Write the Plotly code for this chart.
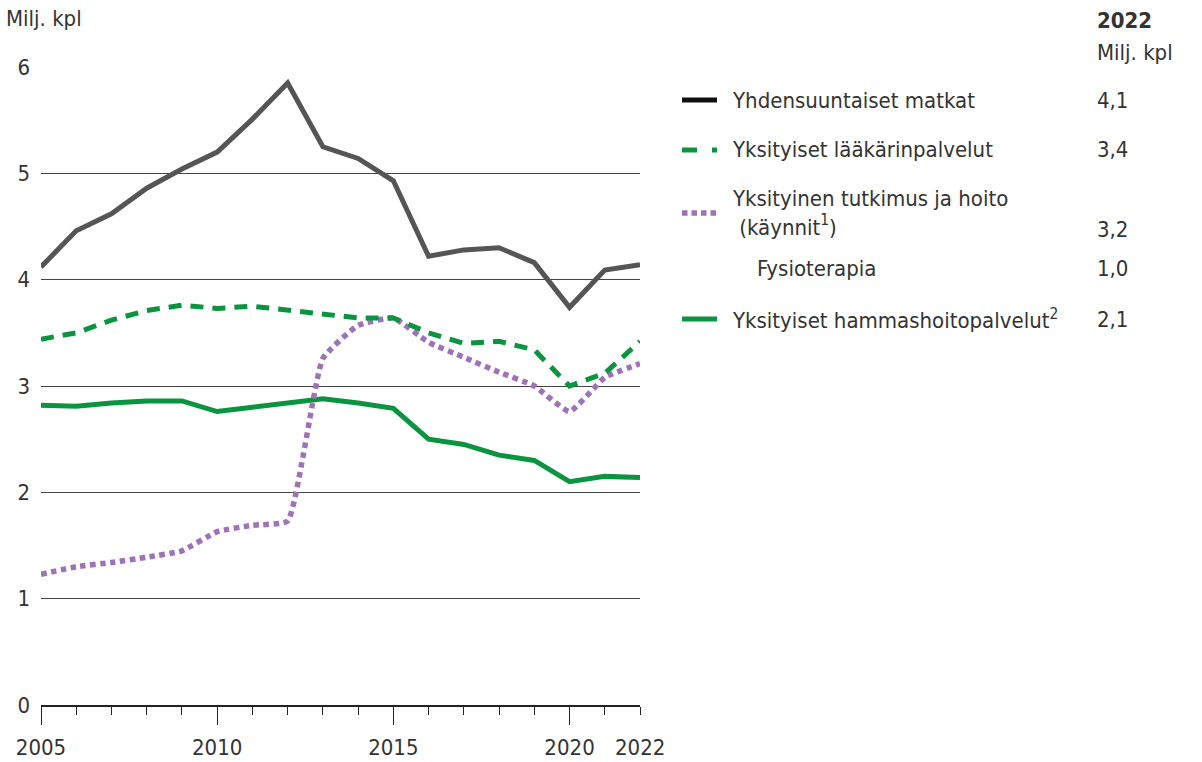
import plotly.graph_objects as go

years = list(range(2005, 2023))

matkat = [4.12, 4.46, 4.62, 4.86, 5.04, 5.20, 5.51, 5.85, 5.25, 5.14,
          4.93, 4.22, 4.28, 4.30, 4.16, 3.74, 4.09, 4.14]
laakari = [3.44, 3.50, 3.62, 3.71, 3.76, 3.73, 3.75, 3.71, 3.67, 3.64,
           3.64, 3.50, 3.40, 3.42, 3.34, 3.00, 3.12, 3.42]
tutkimus = [1.23, 1.30, 1.34, 1.39, 1.45, 1.63, 1.69, 1.73, 3.26, 3.57,
            3.64, 3.41, 3.27, 3.13, 3.00, 2.76, 3.08, 3.21]
hammas = [2.82, 2.81, 2.84, 2.86, 2.86, 2.76, 2.80, 2.84, 2.88, 2.84,
          2.79, 2.50, 2.45, 2.35, 2.30, 2.10, 2.15, 2.14]

legend_labels = ["Yhdensuuntaiset matkat", "Yksityiset lääkärinpalvelut",
                 "Yksityinen tutkimus ja hoito<br> (käynnit<sup>1</sup>)",
                 "Fysioterapia", "Yksityiset hammashoitopalvelut<sup>2</sup>"]
legend_values = ["4,1", "3,4", "3,2", "1,0", "2,1"]

x_labels = ["2005", "2010", "2015", "2020"]

FONT = "Liberation Sans Narrow, DejaVu Sans Condensed, sans-serif"
GRAY = "#555555"
GREEN = "#0a9440"
PURPLE = "#9d72b6"
TXT = "#333333"
FS = 22

W, H = 1202, 762
L, R, T, B = 41, 640, 67, 705


def px(x):
    return (x - L) / (R - L)


def py(y):
    return (B - y) / (B - T)


fig = go.Figure()
fig.add_trace(go.Scatter(x=years, y=matkat, mode="lines",
                         line=dict(color=GRAY, width=5)))
fig.add_trace(go.Scatter(x=years, y=hammas, mode="lines",
                         line=dict(color=GREEN, width=5)))
fig.add_trace(go.Scatter(x=years, y=tutkimus, mode="lines",
                         line=dict(color=PURPLE, width=5.5, dash="5.5px,4.5px",
                                   shape="spline", smoothing=0.4)))
fig.add_trace(go.Scatter(x=years, y=laakari, mode="lines",
                         line=dict(color=GREEN, width=5, dash="13px,9px")))

fig.update_layout(
    width=W, height=H,
    margin=dict(l=L, r=W - R, t=T, b=H - B),
    plot_bgcolor="white", paper_bgcolor="white",
    showlegend=False,
    font=dict(family=FONT, size=FS, color=TXT),
    xaxis=dict(range=[2005, 2022], tickvals=[2005, 2010, 2015, 2020],
               ticktext=x_labels, ticks="outside", ticklen=18,
               tickcolor="#222", tickwidth=1, showgrid=False, zeroline=False,
               showline=True, linecolor="#222", linewidth=1.5,
               minor=dict(tickvals=years, ticks="outside", ticklen=8,
                          tickcolor="#222", tickwidth=1, showgrid=False),
               ticklabelstandoff=4,
               tickfont=dict(size=FS, color=TXT), automargin=False),
    yaxis=dict(range=[0, 6], tickvals=[0, 1, 2, 3, 4, 5, 6],
               showgrid=True, gridcolor="#444", gridwidth=1,
               zeroline=False, showline=False, ticks="",
               ticklabelstandoff=10,
               tickfont=dict(size=FS, color=TXT), automargin=False),
)

annotations = [
    dict(text="Milj. kpl", x=px(4), y=py(18), xanchor="left", yanchor="middle"),
    dict(text="2022", x=2022, xref="x", y=py(747), xanchor="center", yanchor="middle"),
    dict(text="<b>2022</b>", x=px(1095), y=py(20), xanchor="left", yanchor="middle"),
    dict(text="Milj. kpl", x=px(1095), y=py(52), xanchor="left", yanchor="middle"),
]
label_pos = [(730, 100), (730, 150), (730, 213), (755, 268), (730, 319)]
value_y = [100, 150, 230, 268, 319]
for lab, (lx, ly), val, vy in zip(legend_labels, label_pos, legend_values, value_y):
    annotations.append(dict(text=lab, x=px(lx), y=py(ly), xanchor="left",
                            yanchor="middle", align="left"))
    annotations.append(dict(text=val, x=px(1095), y=py(vy), xanchor="left",
                            yanchor="middle"))
for a in annotations:
    a.setdefault("xref", "paper")
    a["yref"] = "paper"
    a["showarrow"] = False
    a["font"] = dict(family=FONT, size=FS, color=TXT)
fig.update_layout(annotations=annotations)

samples = [(100, "#111111", "solid", 5), (150, GREEN, "15px,15px", 5),
           (213, PURPLE, "5.5px,4px", 5.5), (319, GREEN, "solid", 5)]
for sy, col, dash, wd in samples:
    fig.add_shape(type="line", xref="paper", yref="paper",
                  x0=px(682), x1=px(717), y0=py(sy), y1=py(sy),
                  line=dict(color=col, width=wd, dash=dash))

fig.write_html("out.html", config={"displayModeBar": False},
               post_script="document.body.style.margin='0';")
